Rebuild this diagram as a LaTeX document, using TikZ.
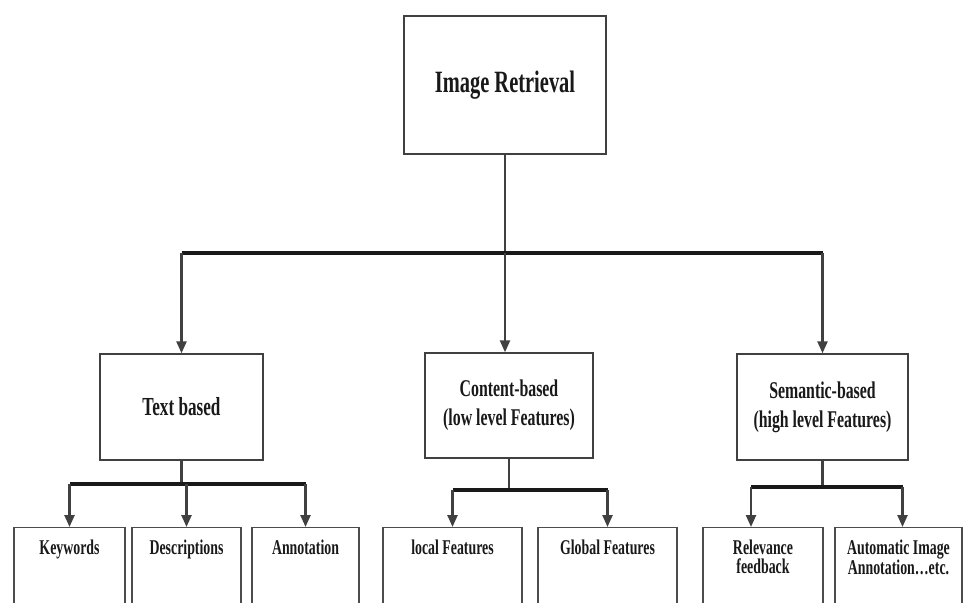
\documentclass[tikz,border=0pt]{standalone}
\usepackage{fontspec}
\newfontfamily\narrowfont[FakeStretch=0.66]{Liberation Serif}
\usetikzlibrary{arrows.meta,positioning}
\tikzset{
  box/.style={draw=black!75,line width=1.4pt,fill=white,inner sep=0pt,align=center,
    text=black!90,font=\narrowfont\bfseries\fontsize{#1}{29}\selectfont},
  leaf/.style={draw=black!70,line width=1.3pt,inner sep=0pt,anchor=north,minimum height=110pt},
  leaftxt/.style={inner sep=0pt,outer sep=0pt,align=center,text=black!90,
    font=\narrowfont\bfseries\fontsize{21}{19}\selectfont},
  bar/.style={line width=3.4pt,black!90},
  stem/.style={line width=2.4pt,black!75},
  arr/.style={-{Triangle[width=10pt,length=12pt]}},
}
\begin{document}
\begin{tikzpicture}[x=1pt,y=-1pt]
\pgfmathsetmacro{\ytop}{527}
\clip (0,0) rectangle (963,602);
\node[box=31,minimum width=202pt,minimum height=138pt] (ir) at (505,85) {Image Retrieval};
\node[box=26,minimum width=163pt,minimum height=106pt] (tb) at (181.5,407) {Text based};
\node[box=24,minimum width=168pt,minimum height=105pt] (cb) at (509,405.5) {Content-based\\(low level Features)};
\node[box=24,minimum width=171pt,minimum height=106pt] (sb) at (822.5,407) {Semantic-based\\(high level Features)};
\node[leaf,minimum width=111pt] (kw) at (69.5,\ytop) {};
\node[leaf,minimum width=109pt] (de) at (186.5,\ytop) {};
\node[leaf,minimum width=107pt] (an) at (305.5,\ytop) {};
\node[leaf,minimum width=139pt] (lf) at (452.5,\ytop) {};
\node[leaf,minimum width=139pt] (gf) at (607.5,\ytop) {};
\node[leaf,minimum width=120pt] (rf) at (763,\ytop) {};
\node[leaf,minimum width=127pt] (aa) at (898.5,\ytop) {};
\node[leaftxt,below=13pt of kw.north] (kwt) {Keywords};
\node[leaftxt,below=13pt of de.north] (det) {Descriptions};
\node[leaftxt,below=13pt of an.north] (ant) {Annotation};
\node[leaftxt,below=13pt of lf.north] (lft) {local Features};
\node[leaftxt,below=13pt of gf.north] (gft) {Global Features};
\node[leaftxt,below=13pt of rf.north] (rft) {Relevance\\feedback};
\node[leaftxt,below=13pt of aa.north] (aat) {Automatic Image\\Annotation\dots etc.};
\coordinate (j0) at (ir.south |- 0,253);
\coordinate (j1) at (tb.south |- 0,484);
\coordinate (j2) at (cb.south |- 0,490);
\coordinate (j3) at (sb.south |- 0,487);
\draw[stem] (ir.south) -- (j0);
\draw[bar] (tb.north |- j0) -- (sb.north |- j0);
\draw[stem,arr] (tb.north |- j0) -- (tb.north);
\draw[stem,arr] (j0) -- (j0 |- cb.north);
\draw[stem,arr] (sb.north |- j0) -- (sb.north);
\draw[stem] (tb.south) -- (j1);
\draw[bar] (kw.north |- j1) -- (an.north |- j1);
\foreach \n in {kw,de,an}
  \draw[stem,arr] (\n.north |- j1) -- (\n.north);
\draw[stem] (cb.south) -- (j2);
\draw[bar] (lf.north |- j2) -- (gf.north |- j2);
\foreach \n in {lf,gf}
  \draw[stem,arr] (\n.north |- j2) -- (\n.north);
\draw[stem] (sb.south) -- (j3);
\draw[bar] ([xshift=-12pt]rf.north |- j3) -- ([xshift=4pt]aa.north |- j3);
\foreach \n/\s in {rf/-12,aa/4}
  \draw[stem,arr] ([xshift=\s pt]\n.north |- j3) -- ([xshift=\s pt]\n.north);
\end{tikzpicture}
\end{document}
